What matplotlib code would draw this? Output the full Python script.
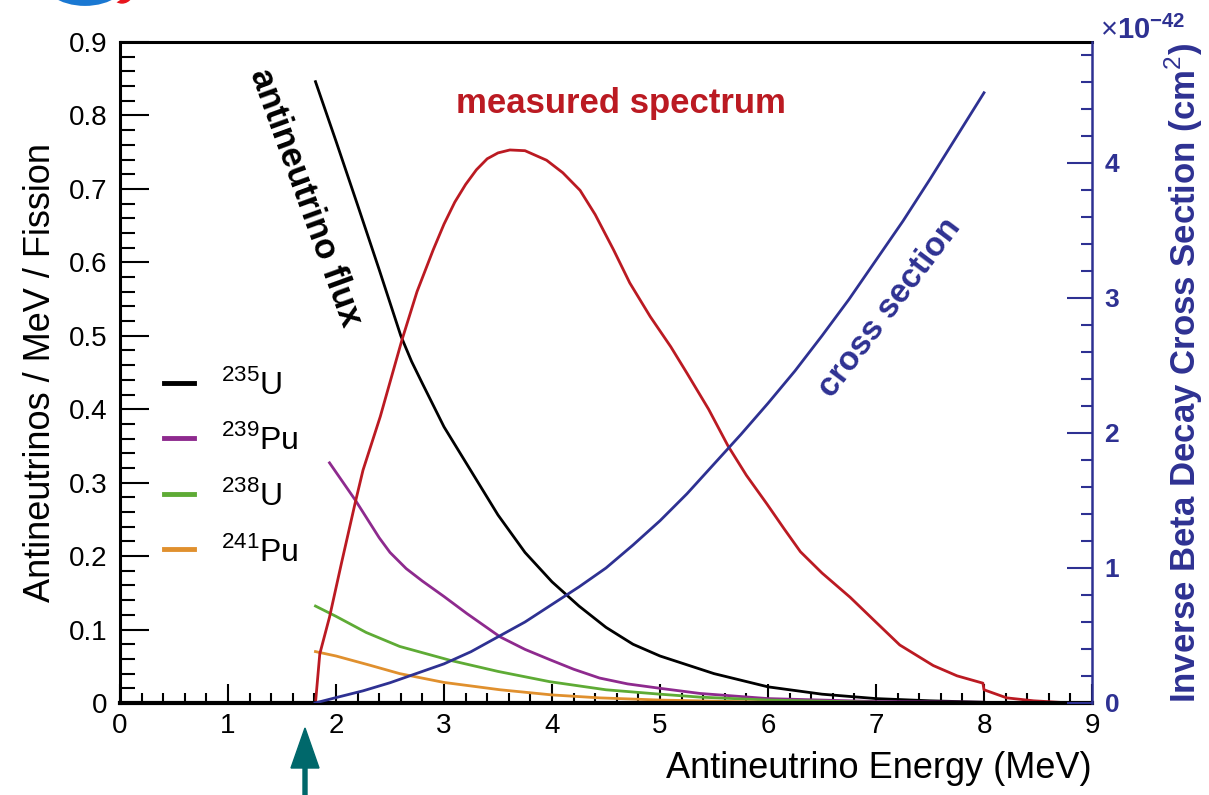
import numpy as np
import matplotlib
matplotlib.use('Agg')
import matplotlib.pyplot as plt
from matplotlib.patches import FancyArrow, Ellipse
from matplotlib.transforms import IdentityTransform

plt.rcParams['font.family'] = ['Liberation Sans', 'DejaVu Sans']
plt.rcParams['mathtext.fontset'] = 'custom'
plt.rcParams['mathtext.rm'] = 'Liberation Sans'
plt.rcParams['mathtext.bf'] = 'Liberation Sans:bold'

# flux per isotope (antineutrinos / MeV / fission)
e_u235 = [1.81, 2.0, 2.2, 2.4, 2.5, 2.6, 2.7, 2.8, 3.0, 3.25, 3.5, 3.75, 4.0, 4.25, 4.5, 4.75, 5.0, 5.5, 6.0,
          6.5, 7.0, 7.5, 8.0]
u235 = [0.846, 0.765, 0.678, 0.59, 0.545, 0.50, 0.465, 0.435, 0.376, 0.316, 0.256, 0.205, 0.165, 0.132, 0.103,
        0.08, 0.064, 0.04, 0.022, 0.012, 0.006, 0.003, 0.001]

e_pu239 = [1.94, 2.18, 2.4, 2.5, 2.65, 2.8, 3.0, 3.21, 3.52, 3.75, 3.98, 4.2, 4.44, 4.7, 5.0, 5.37, 6.0, 6.5, 7.0, 8.0]
pu239 = [0.327, 0.276, 0.225, 0.205, 0.183, 0.166, 0.145, 0.122, 0.090, 0.073, 0.059, 0.046, 0.034, 0.026,
         0.020, 0.013, 0.006, 0.004, 0.002, 0.001]

e_u238 = [1.81, 2.0, 2.28, 2.59, 3.06, 3.5, 3.98, 4.5, 5.0, 5.37, 6.0, 7.0, 8.0]
u238 = [0.132, 0.118, 0.096, 0.077, 0.058, 0.043, 0.029, 0.018, 0.012, 0.008, 0.004, 0.001, 0.0]

e_pu241 = [1.81, 2.0, 2.3, 2.59, 3.0, 3.52, 4.0, 4.44, 5.0, 6.0, 7.0, 8.0]
pu241 = [0.070, 0.064, 0.052, 0.040, 0.028, 0.018, 0.011, 0.007, 0.004, 0.001, 0.0, 0.0]

# measured spectrum (left scale)
e_meas = [1.81, 1.85, 1.94, 2.05, 2.18, 2.25, 2.41, 2.61, 2.75, 2.9, 3.0, 3.1, 3.2, 3.3, 3.4, 3.5, 3.61, 3.75,
          3.95, 4.1, 4.26, 4.4, 4.57, 4.72, 4.91, 5.1, 5.25, 5.45, 5.63, 5.8, 5.99, 6.15, 6.30, 6.5, 6.76, 7.0,
          7.22, 7.53, 7.75, 7.99, 8.0, 8.21, 8.46, 8.8, 9.0]
meas = [0.0, 0.067, 0.117, 0.19, 0.274, 0.317, 0.39, 0.494, 0.56, 0.617, 0.652, 0.682, 0.706, 0.726, 0.741,
        0.749, 0.753, 0.752, 0.739, 0.722, 0.698, 0.665, 0.617, 0.572, 0.526, 0.485, 0.449, 0.40, 0.350, 0.31,
        0.271, 0.237, 0.206, 0.177, 0.144, 0.11, 0.079, 0.051, 0.037, 0.027, 0.018, 0.007, 0.003, 0.0, 0.0]

# inverse beta decay cross section (1e-42 cm^2, right scale)
e_xs = [1.806, 2.0, 2.25, 2.5, 2.75, 3.0, 3.25, 3.5, 3.75, 4.0, 4.25, 4.5, 4.75, 5.0, 5.25, 5.5, 5.75, 6.0,
        6.25, 6.5, 6.75, 7.0, 7.25, 7.5, 7.75, 8.0]
xsec = [0.0, 0.04, 0.09, 0.15, 0.22, 0.29, 0.38, 0.49, 0.60, 0.73, 0.86, 1.0, 1.17, 1.35, 1.55, 1.77, 1.99, 2.22,
        2.46, 2.72, 2.99, 3.28, 3.57, 3.88, 4.2, 4.52]

labels = [r'$^{235}$U', r'$^{239}$Pu', r'$^{238}$U', r'$^{241}$Pu']

W, H = 1209, 795
NAVY = '#2e3192'
RED = '#bb1a22'


def px(x, y):
    return x / W, 1 - y / H


fig = plt.figure(figsize=(W / 100, H / 100), dpi=100)
ax = fig.add_axes([120 / W, 1 - 703 / H, (1092 - 120) / W, (703 - 42) / H])
ax2 = ax.twinx()

lw = 2.0
ax.plot(e_u235, u235, color='black', lw=lw, label=labels[0])
ax.plot(e_pu239, pu239, color='#8e2a8e', lw=lw, label=labels[1])
ax.plot(e_u238, u238, color='#5eab35', lw=lw, label=labels[2])
ax.plot(e_pu241, pu241, color='#e0902e', lw=lw, label=labels[3])
ax.plot(e_meas, meas, color=RED, lw=lw)
ax2.plot(e_xs, xsec, color=NAVY, lw=lw)

ax.set_xlim(0, 9)
ax.set_ylim(0, 0.9)
ax2.set_ylim(0, 4.896)

ax.set_xticks(np.arange(0, 10, 1))
ax.set_xticks(np.arange(0, 9.01, 0.2), minor=True)
ax.set_yticks(np.arange(0, 0.91, 0.1))
ax.set_yticks(np.arange(0, 0.901, 0.02), minor=True)
ax.set_yticklabels(['0'] + ['%.1f' % v for v in np.arange(0.1, 0.91, 0.1)])
ax.set_xticklabels([str(i) for i in range(10)])
ax2.set_yticks(range(5))
ax2.set_yticks(np.arange(0, 4.9, 0.2), minor=True)

ax.tick_params(axis='x', which='major', direction='in', length=14, width=1.5, labelsize=20, pad=7, top=False)
ax.tick_params(axis='x', which='minor', direction='in', length=7, width=1.5, top=False)
ax.tick_params(axis='y', which='major', direction='in', length=21, width=1.5, labelsize=20, pad=9, right=False)
ax.tick_params(axis='y', which='minor', direction='in', length=11, width=1.5, right=False)
ax2.tick_params(axis='y', which='major', direction='in', length=18, width=1.5, colors=NAVY, labelsize=19, pad=9)
ax2.tick_params(axis='y', which='minor', direction='in', length=8, width=1.5, colors=NAVY)
for t in ax2.get_yticklabels():
    t.set_fontweight('bold')

for s in ['left', 'top']:
    ax.spines[s].set_linewidth(2.2)
ax.spines['bottom'].set_linewidth(3)
for s in ['left', 'top', 'bottom']:
    ax2.spines[s].set_visible(False)
ax2.spines['right'].set_color(NAVY)
ax2.spines['right'].set_linewidth(1.8)
ax.spines['right'].set_visible(False)

ax.set_xlabel('Antineutrino Energy (MeV)', fontsize=26, loc='right', labelpad=9)
ax.set_ylabel('Antineutrinos / MeV / Fission', fontsize=26, labelpad=8)
ax2.set_ylabel('Inverse Beta Decay Cross Section (cm$^{2}$)', fontsize=25, color=NAVY,
               fontweight='bold', labelpad=31,
               family=['Liberation Sans Narrow', 'Liberation Sans'])

leg = ax.legend(loc='upper left', bbox_to_anchor=px(135, 340), bbox_transform=fig.transFigure,
                frameon=False, fontsize=23, handlelength=0.94, handletextpad=0.85, labelspacing=0.74)
for line in leg.get_lines():
    line.set_linewidth(3.5)

fig.text(*px(621, 103), 'measured spectrum', color=RED, fontsize=25, fontweight='bold',
         ha='center', va='center')
fig.text(*px(305, 197), 'antineutrino flux', color='black', fontsize=25, fontweight='bold',
         ha='center', va='center', rotation=-70, rotation_mode='anchor')
fig.text(*px(890, 308), 'cross section', color=NAVY, fontsize=24, fontweight='bold',
         ha='center', va='center', rotation=53, rotation_mode='anchor')
fig.text(*px(1100, 30), r'$\times$10$^{\mathbf{-42}}$', color=NAVY, fontsize=21, fontweight='bold',
         ha='left', va='center')

# threshold arrow
fig.add_artist(FancyArrow(305, 0, 0, 67, width=4, head_width=28, head_length=40,
                          length_includes_head=True, color='#00686b', transform=IdentityTransform()))

# cut-off logo at the top left
fig.add_artist(Ellipse((122, H + 14), 26, 34, color='#e8141c', transform=IdentityTransform()))
fig.add_artist(Ellipse((85, H + 25), 96, 66, facecolor='#1a78d2', edgecolor='white', lw=3,
                       transform=IdentityTransform()))

fig.savefig('out.png', dpi=100)
